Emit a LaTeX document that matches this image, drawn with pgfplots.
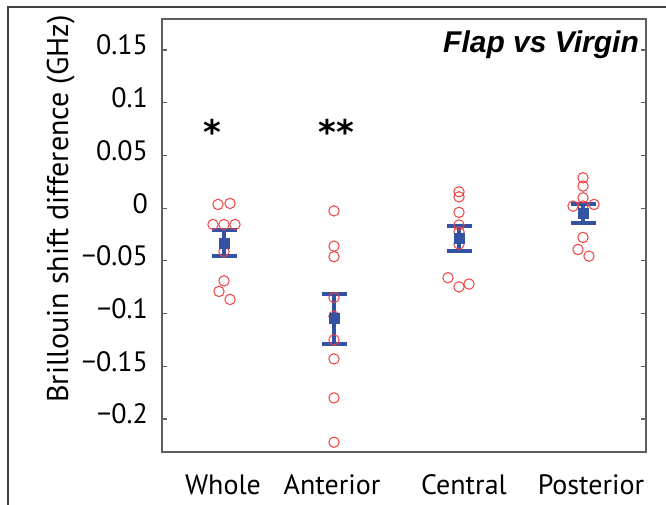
\documentclass[border=0pt]{standalone}
\usepackage{fontspec}
\setmainfont{PT Sans}
\newfontfamily\titlefont{Liberation Sans}
\newfontfamily\starfont{DejaVu Sans}
\usepackage{pgfplots}
\pgfplotsset{compat=1.18}
\definecolor{ptred}{RGB}{238,64,64}
\definecolor{mblue}{RGB}{52,82,162}
\definecolor{axgray}{RGB}{95,95,95}
\begin{document}
\begin{tikzpicture}[x=1pt,y=1pt]
\useasboundingbox (0,0) rectangle (666,505);
\draw[line width=1.3pt, color=black!75] (8,0) -- (8,498) -- (670,498);
\begin{axis}[
  at={(162pt,53pt)}, anchor=south west,
  width=484pt, height=433pt, scale only axis,
  xmin=0, xmax=4.84, ymin=-0.2313, ymax=0.1794,
  axis line style={axgray, line width=1.2pt},
  ytick={-0.2,-0.15,-0.1,-0.05,0,0.05,0.1,0.15},
  yticklabels={−0.2,−0.15,−0.1,−0.05,0,0.05,0.1,0.15},
  xtick={0.61,1.70,3.02,4.29},
  xticklabels={Whole,Anterior,Central,Posterior},
  major x tick style={draw=none},
  tick align=inside, major tick length=5pt,
  ytick pos=both,
  tick style={axgray, line width=1.2pt},
  ticklabel style={font=\fontsize{28}{28}\selectfont, inner sep=0pt},
  yticklabel style={anchor=base east, xshift=-14pt, yshift=-5pt},
  xticklabel style={anchor=base, yshift=-43pt},
  ylabel={Brillouin shift difference (GHz)},
  ylabel style={at={(axis description cs:-0.194,0.561)}, anchor=base, font=\fontsize{30}{30}\selectfont, inner sep=0pt},
  clip=false,
]
% individual samples
\addplot[only marks, mark=o, mark size=5.2pt, mark options={ptred, line width=1pt}] coordinates {
 (0.56,0.0035) (0.68,0.0045) (0.51,-0.0155) (0.62,-0.0155) (0.73,-0.0155)
 (0.62,-0.041) (0.62,-0.069) (0.57,-0.079) (0.68,-0.0866)
};
\addplot[only marks, mark=o, mark size=5.2pt, mark options={ptred, line width=1pt}] coordinates {
 (1.72,-0.0026) (1.72,-0.036) (1.72,-0.046) (1.72,-0.0848) (1.72,-0.1025)
 (1.72,-0.125) (1.72,-0.143) (1.72,-0.18) (1.72,-0.222)
};
\addplot[only marks, mark=o, mark size=5.2pt, mark options={ptred, line width=1pt}] coordinates {
 (2.97,0.0155) (2.97,0.0107) (2.97,-0.004) (2.97,-0.016) (2.97,-0.0225)
 (2.97,-0.034) (2.86,-0.066) (2.97,-0.0747) (3.07,-0.072)
};
\addplot[only marks, mark=o, mark size=5.2pt, mark options={ptred, line width=1pt}] coordinates {
 (4.21,0.0288) (4.21,0.0209) (4.21,0.0098) (4.11,0.0019) (4.32,0.0035)
 (4.21,0.002) (4.21,-0.0278) (4.16,-0.0392) (4.27,-0.0455)
};
% means with SEM
\addplot[only marks, mark=square*, mark size=5pt, mblue, mark options={mblue, line width=0pt},
  error bars/.cd, y dir=both, y explicit,
  error bar style={line width=3.6pt, mblue},
  error mark options={mblue, line width=4pt, mark size=12.5pt, rotate=90}] coordinates {
 (0.62,-0.0335) +- (0,0.0123)
 (1.72,-0.1047) +- (0,0.0237)
 (2.97,-0.0288) +- (0,0.0116)
 (4.21,-0.0050) +- (0,0.0088)
};
\node[anchor=north, font=\starfont\bfseries\fontsize{34}{34}\selectfont, inner sep=0pt] at (axis cs:0.50,0.0845) {*};
\node[anchor=north, font=\starfont\bfseries\fontsize{34}{34}\selectfont, inner sep=0pt] at (axis cs:1.74,0.0845) {**};
\node[anchor=base east, inner sep=0pt, font=\titlefont\bfseries\itshape\fontsize{30}{30}\selectfont] at (axis cs:4.77,0.148) {Flap vs Virgin};
\end{axis}
\end{tikzpicture}
\end{document}
